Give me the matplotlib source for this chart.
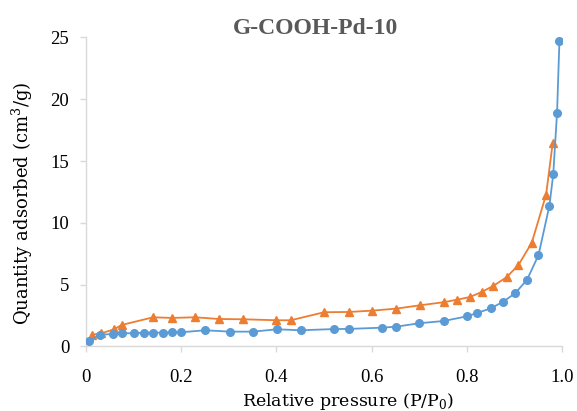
"""
Nitrogen sorption isotherm for G-COOH-Pd-10 (adsorption / desorption branches).
Writes out.png (577x411).
"""
import matplotlib
matplotlib.use("Agg")
import matplotlib.pyplot as plt

# adsorption branch (blue circles)
ads_p = [0.006, 0.03, 0.057, 0.076, 0.101, 0.121, 0.141, 0.161, 0.181, 0.200,
         0.250, 0.302, 0.351, 0.401, 0.451, 0.521, 0.552, 0.621, 0.651, 0.700,
         0.751, 0.800, 0.820, 0.850, 0.875, 0.901, 0.926, 0.950, 0.973, 0.981,
         0.989, 0.994]
ads_q = [0.45, 0.95, 1.01, 1.07, 1.07, 1.12, 1.12, 1.12, 1.15, 1.15,
         1.31, 1.20, 1.20, 1.39, 1.31, 1.41, 1.42, 1.52, 1.60, 1.88,
         2.06, 2.44, 2.69, 3.09, 3.60, 4.30, 5.40, 7.38, 11.39, 13.93,
         18.9, 24.7]

# desorption branch (orange triangles)
des_p = [0.012, 0.031, 0.059, 0.075, 0.141, 0.181, 0.229, 0.280, 0.330, 0.400,
         0.430, 0.500, 0.552, 0.601, 0.651, 0.701, 0.751, 0.780, 0.806, 0.831,
         0.855, 0.883, 0.908, 0.936, 0.966, 0.980]
des_q = [0.95, 1.05, 1.39, 1.74, 2.36, 2.31, 2.36, 2.22, 2.20, 2.12,
         2.12, 2.77, 2.79, 2.90, 3.06, 3.33, 3.58, 3.79, 4.00, 4.41,
         4.90, 5.60, 6.59, 8.40, 12.28, 16.49]

BLUE = "#5b9bd5"
ORANGE = "#ed7d31"
GRID = "#d9d9d9"

plt.rcParams["font.family"] = ["Liberation Serif", "DejaVu Serif"]
plt.rcParams["mathtext.fontset"] = "custom"
plt.rcParams["mathtext.rm"] = "DejaVu Serif"

W, H = 577, 411
fig = plt.figure(figsize=(W / 100, H / 100), dpi=100)
ax = fig.add_axes([0.149, 0.157, 0.8255, 0.752])

ax.plot(des_p, des_q, color=ORANGE, lw=1.3, marker="^", ms=5.5, zorder=2)
ax.plot(ads_p, ads_q, color=BLUE, lw=1.3, marker="o", ms=5.5, zorder=3)

ax.set_xlim(0, 1.0)
ax.set_ylim(0, 25)
ax.set_xticks([0, 0.2, 0.4, 0.6, 0.8, 1.0])
ax.set_xticklabels(["0", "0.2", "0.4", "0.6", "0.8", "1.0"])
ax.set_yticks([0, 5, 10, 15, 20, 25])

for s in ("top", "right"):
    ax.spines[s].set_visible(False)
for s in ("left", "bottom"):
    ax.spines[s].set_color(GRID)
    ax.spines[s].set_linewidth(1.0)
ax.tick_params(axis="both", length=4, width=1.0, color=GRID,
               labelsize=13.5, labelcolor="#000000")
ax.tick_params(axis="x", pad=12)
ax.tick_params(axis="y", pad=8)

# labels placed in figure pixels to follow the reference layout
fig.text(348 / W, 1 - 401 / H, r"Relative pressure (P/P$_0$)",
         family="DejaVu Serif", fontsize=12.5, ha="center", va="center")
fig.text(22 / W, 1 - 203 / H, r"Quantity adsorbed (cm$^3$/g)",
         family="DejaVu Serif", fontsize=13, rotation=90,
         ha="center", va="center")
fig.text(316 / W, 1 - 28 / H, "G-COOH-Pd-10", fontsize=17,
         fontweight="bold", color="#595959", ha="center", va="center")

fig.savefig("out.png", dpi=100)
